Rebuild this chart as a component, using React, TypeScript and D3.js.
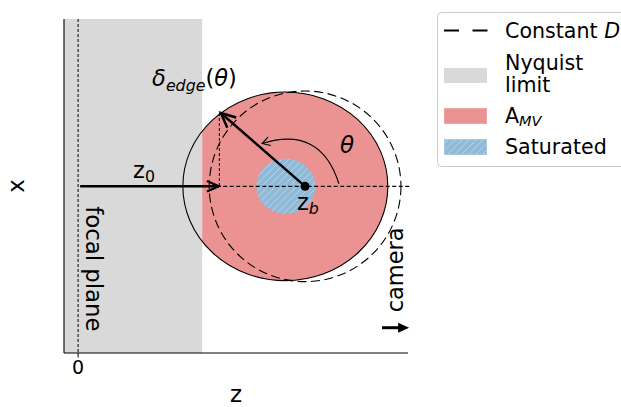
import React from 'react';
import * as d3 from 'd3';

// figure layout
const width = 621;
const height = 407;
const plot = { left: 64, right: 408, top: 19, bottom: 353 };

// axis domains and ticks
const zDomain = [-0.1, 2.34];
const xDomain = [-1.285, 1.29];
const zTicks = [0];
const zTickLabels = ['0'];

// geometry of the sketch (data units)
const focalPlane = 0;
const nyquistLimit = 0.88;
const zB = 1.61;
const circleNames = ['dof', 'constantD', 'saturated'];
const circleCenterZ = [1.47, 1.61, 1.473];
const circleRadiusZ = [0.727, 0.68, 0.209];
const circleRadiusX = [0.727, 0.735, 0.213];
const edgeAngleDeg = 129;
const thetaArcFrom = [1.85, 0.02];
const thetaArcTo = [1.305, 0.33];
const thetaArcRad = 0.5;
const lineEndZ = 2.36;
const cameraArrowZ = [2.156, 2.348];
const cameraArrowX = -1.09;

// text anchors (data units)
const deltaLabelPos = [0.525, 0.773];
const z0LabelPos = [0.39, 0.065];
const zbLabelPos = [1.553, -0.184];
const thetaLabelPos = [1.858, 0.257];
const focalLabelPos = [0.057, -0.153];
const cameraLabelPos = [2.305, -0.644];

const legendLabels = ['Constant', 'Nyquist', 'limit', 'A', 'Saturated'];

const FONT = 'DejaVu Sans';
const GRAY = '#d9d9d9';
const PINK = '#eb9393';
const BLUE = '#8fbbd9';

function openHead(tip, from, len, deg) {
    const dx = tip[0] - from[0];
    const dy = tip[1] - from[1];
    const d = Math.hypot(dx, dy);
    const ux = dx / d, uy = dy / d;
    const a = (deg * Math.PI) / 180;
    const p = (s) => [
        tip[0] - len * (ux * Math.cos(a) - s * uy * Math.sin(a)),
        tip[1] - len * (uy * Math.cos(a) + s * ux * Math.sin(a)),
    ];
    const [a1, a2] = [p(1), p(-1)];
    return `M${a1[0]},${a1[1]}L${tip[0]},${tip[1]}L${a2[0]},${a2[1]}`;
}

export default function App() {
    const zScale = d3.scaleLinear().domain(zDomain).range([plot.left, plot.right]);
    const xScale = d3.scaleLinear().domain(xDomain).range([plot.bottom, plot.top]);
    const pt = ([z, x]) => [zScale(z), xScale(x)];

    const circles = circleNames.map((name, i) => ({
        name,
        cx: zScale(circleCenterZ[i]),
        cy: xScale(0),
        rx: zScale(circleRadiusZ[i]) - zScale(0),
        ry: xScale(0) - xScale(circleRadiusX[i]),
    }));
    const [dof, constD, sat] = circles;

    const a = (edgeAngleDeg * Math.PI) / 180;
    const edge = [
        circleCenterZ[0] + circleRadiusZ[0] * Math.cos(a),
        circleRadiusX[0] * Math.sin(a),
    ];
    const edgeP = pt(edge);
    const zbP = pt([zB, 0]);

    // theta arc like matplotlib arc3
    const p1 = pt(thetaArcFrom);
    const p2 = pt(thetaArcTo);
    const mx = (p1[0] + p2[0]) / 2;
    const my = (p1[1] + p2[1]) / 2;
    const ddx = p2[0] - p1[0];
    const ddy = -(p2[1] - p1[1]);
    const ctrl = [mx + thetaArcRad * ddy, my + thetaArcRad * ddx];
    const arc = d3.path();
    arc.moveTo(p1[0], p1[1]);
    arc.quadraticCurveTo(ctrl[0], ctrl[1], p2[0], p2[1]);

    const nyqX = zScale(nyquistLimit);
    const y0 = xScale(0);
    const z0Start = pt([0.015, 0]);

    const camA = pt([cameraArrowZ[0], cameraArrowX]);
    const camB = pt([cameraArrowZ[1], cameraArrowX]);

    const txt = { fontFamily: FONT, fill: '#000' };

    return (
        <svg width={width} height={height} style={{ position: 'absolute', left: 0, top: 0 }}>
            <defs>
                <pattern id="hatch" patternUnits="userSpaceOnUse" width={7} height={7}>
                    <rect width={7} height={7} fill={BLUE} />
                    <path d="M0,7L7,0M-1,1L1,-1M6,8L8,6" stroke="#b5d2e7" strokeWidth={1} />
                </pattern>
                <clipPath id="rightOfNyq">
                    <rect x={nyqX} y={plot.top} width={plot.right - nyqX + 20} height={plot.bottom - plot.top} />
                </clipPath>
                <clipPath id="legendClip">
                    <rect x={0} y={0} width={width} height={height} />
                </clipPath>
            </defs>
            <rect width={width} height={height} fill="#fff" />

            {/* Nyquist limit */}
            <rect x={plot.left} y={plot.top} width={nyqX - plot.left} height={plot.bottom - plot.top} fill={GRAY} />

            {/* A_MV */}
            <ellipse cx={dof.cx} cy={dof.cy} rx={dof.rx} ry={dof.ry} fill={PINK} clipPath="url(#rightOfNyq)" />
            {/* saturated */}
            <ellipse cx={sat.cx} cy={sat.cy} rx={sat.rx} ry={sat.ry} fill="url(#hatch)" />

            <ellipse cx={dof.cx} cy={dof.cy} rx={dof.rx} ry={dof.ry} fill="none" stroke="#000" strokeWidth={1.1} />
            <ellipse cx={constD.cx} cy={constD.cy} rx={constD.rx} ry={constD.ry} fill="none" stroke="#000"
                strokeWidth={1.1} strokeDasharray="9,4.5" />

            {/* focal plane */}
            <line x1={zScale(focalPlane)} x2={zScale(focalPlane)} y1={plot.top} y2={plot.bottom}
                stroke="#000" strokeWidth={1} strokeDasharray="3,2" />
            {/* optical axis */}
            <line x1={z0Start[0]} x2={zScale(lineEndZ)} y1={y0} y2={y0} stroke="#000" strokeWidth={1.2} strokeDasharray="4,2.5" />
            {/* edge projection */}
            <line x1={edgeP[0] - 1.5} x2={edgeP[0] - 1.5} y1={edgeP[1]} y2={y0} stroke="#000" strokeWidth={1} strokeDasharray="3,2" />

            {/* z0 arrow */}
            <line x1={z0Start[0]} x2={edgeP[0] - 2} y1={y0} y2={y0} stroke="#000" strokeWidth={2.5} />
            <path d={openHead([edgeP[0] - 2, y0], z0Start, 13, 24)} fill="none" stroke="#000" strokeWidth={2.2} />

            {/* delta arrow */}
            <line x1={zbP[0]} y1={zbP[1]} x2={edgeP[0]} y2={edgeP[1]} stroke="#000" strokeWidth={2.5} />
            <path d={openHead(edgeP, zbP, 16, 25)} fill="none" stroke="#000" strokeWidth={2.5} />
            <circle cx={zbP[0]} cy={zbP[1]} r={4.5} fill="#000" />

            {/* theta arc */}
            <path d={arc.toString()} fill="none" stroke="#000" strokeWidth={1.1} />
            <path d={openHead(p2, ctrl, 9, 30)} fill="none" stroke="#000" strokeWidth={1.1} />

            {/* camera arrow */}
            <line x1={camA[0]} x2={camB[0] - 8} y1={camA[1]} y2={camA[1]} stroke="#000" strokeWidth={3} />
            <path d={`M${camB[0]},${camB[1]}L${camB[0] - 11},${camB[1] - 5}L${camB[0] - 11},${camB[1] + 5}Z`} fill="#000" />

            {/* spines */}
            <line x1={plot.left} x2={plot.left} y1={plot.top} y2={plot.bottom} stroke="#000" strokeWidth={1.1} />
            <line x1={plot.left} x2={plot.right} y1={plot.bottom} y2={plot.bottom} stroke="#000" strokeWidth={1.1} />
            {zTicks.map((t, i) => (
                <g key={t}>
                    <line x1={zScale(t)} x2={zScale(t)} y1={plot.bottom} y2={plot.bottom + 4.5} stroke="#000" strokeWidth={1} />
                    <text x={zScale(t)} y={plot.bottom + 21} fontSize={19} textAnchor="middle" {...txt}>{zTickLabels[i]}</text>
                </g>
            ))}
            <text x={(plot.left + plot.right) / 2} y={402} fontSize={23} textAnchor="middle" {...txt}>z</text>
            <text transform={`translate(24,186) rotate(-90)`} fontSize={23} textAnchor="middle" {...txt}>x</text>

            {/* annotations */}
            <text x={zScale(deltaLabelPos[0])} y={xScale(deltaLabelPos[1])} fontSize={22.5} {...txt}>
                <tspan fontStyle="italic">δ</tspan>
                <tspan fontStyle="italic" fontSize={15.8} dy={5}>edge</tspan>
                <tspan dy={-5}>(</tspan>
                <tspan fontStyle="italic">θ</tspan>
                <tspan>)</tspan>
            </text>
            <text x={zScale(z0LabelPos[0])} y={xScale(z0LabelPos[1])} fontSize={22.5} {...txt}>
                z<tspan fontSize={15.8} dy={4}>0</tspan>
            </text>
            <text x={zScale(zbLabelPos[0])} y={xScale(zbLabelPos[1])} fontSize={22.5} {...txt}>
                z<tspan fontSize={15.8} dy={4} fontStyle="italic">b</tspan>
            </text>
            <text x={zScale(thetaLabelPos[0])} y={xScale(thetaLabelPos[1])} fontSize={23} fontStyle="italic" {...txt}>θ</text>
            <text transform={`translate(${zScale(focalLabelPos[0])},${xScale(focalLabelPos[1])}) rotate(90)`}
                fontSize={22.8} {...txt}>focal plane</text>
            <text transform={`translate(${zScale(cameraLabelPos[0])},${xScale(cameraLabelPos[1])}) rotate(-90)`}
                fontSize={22.5} textAnchor="middle" {...txt}>camera</text>

            {/* legend */}
            <g clipPath="url(#legendClip)">
                <rect x={437.5} y={12.5} width={200} height={154} rx={4} fill="#fff" fillOpacity={0.8} stroke="#cccccc" strokeWidth={1} />
                <line x1={444} x2={488} y1={30.5} y2={30.5} stroke="#000" strokeWidth={1.8} strokeDasharray="15,13.5" />
                <text x={505} y={38} fontSize={20.6} {...txt}>
                    {legendLabels[0]} <tspan fontStyle="italic">D</tspan>
                </text>
                <rect x={444} y={68} width={43} height={15} fill={GRAY} />
                <text x={505} y={70} fontSize={20.6} {...txt}>{legendLabels[1]}</text>
                <text x={505} y={92} fontSize={20.6} {...txt}>{legendLabels[2]}</text>
                <rect x={444.5} y={108.5} width={42} height={15} fill={PINK} stroke="#f0a5a5" strokeWidth={1} />
                <text x={505} y={123} fontSize={20.6} {...txt}>
                    {legendLabels[3]}<tspan fontSize={14.5} fontStyle="italic" dy={3}>MV</tspan>
                </text>
                <rect x={444.5} y={139.5} width={42} height={15} fill="url(#hatch)" stroke="#a6c8e0" strokeWidth={1} />
                <text x={505} y={154} fontSize={20.6} {...txt}>{legendLabels[4]}</text>
            </g>
        </svg>
    );
}
